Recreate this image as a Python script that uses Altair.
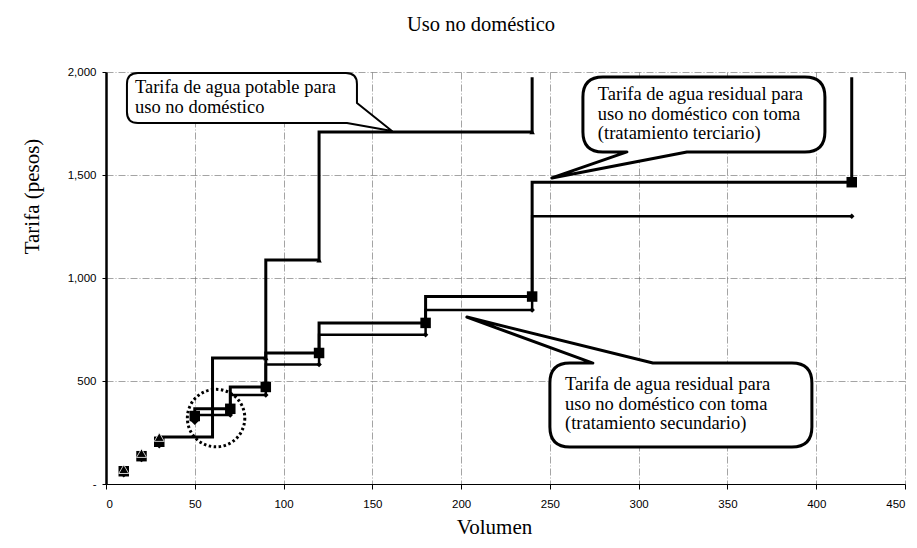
import altair as alt
import pandas as pd

# ---------------- data ----------------
# Tarifa de agua potable (triangles) - drawn as step-after line
pot_x = [30, 60, 90, 120, 240]
pot_y = [228, 612, 1087, 1709, 1975]
pot_mark_x = [10, 20, 30, 90, 120, 240]
pot_mark_y = [72, 150, 228, 612, 1087, 1709]

# Tarifa agua residual, tratamiento terciario (squares) - step-before line
ter_x = [50, 70, 90, 120, 180, 240, 420, 420]
ter_y = [330, 365, 471, 636, 782, 910, 1465, 1975]
ter_mark_x = [10, 20, 30, 50, 70, 90, 120, 180, 240, 420]
ter_mark_y = [62, 135, 205, 330, 365, 471, 636, 782, 910, 1465]

# Tarifa agua residual, tratamiento secundario (diamonds) - step-before line
sec_x = [50, 70, 90, 120, 180, 240, 420]
sec_y = [310, 335, 432, 580, 725, 845, 1300]
sec_mark_x = [10, 20, 30, 50, 70, 90, 120, 180, 240, 420]
sec_mark_y = [55, 128, 195, 310, 335, 432, 580, 725, 845, 1300]

x_ticks = [0, 50, 100, 150, 200, 250, 300, 350, 400, 450]
y_ticks = [0, 500, 1000, 1500, 2000]

chart_title = "Uso no doméstico"
x_title = "Volumen"
y_title = "Tarifa (pesos)"

# annotations (callouts)
callout_texts = [
    "Tarifa de agua potable para\nuso no doméstico",
    "Tarifa de agua residual para\nuso no doméstico con toma\n(tratamiento  terciario)",
    "Tarifa de agua residual para\nuso no doméstico con toma\n(tratamiento secundario)",
]
callout_text_x = [16.3, 277, 258.5]
callout_text_y = [1898, 1864, 456]
callout_box_x = [11.8, 268.6, 250]
callout_box_y = [1995, 1976, 587]
circle_x = [62]
circle_y = [320]

SERIF = "Liberation Serif"
SANS = "Liberation Sans"

# ---------------- tables ----------------
pot = pd.DataFrame({"x": pot_x, "y": pot_y, "o": range(len(pot_x))})
ter = pd.DataFrame({"x": ter_x, "y": ter_y, "o": range(len(ter_x))})
sec = pd.DataFrame({"x": sec_x, "y": sec_y, "o": range(len(sec_x))})
pot_m = pd.DataFrame({"x": pot_mark_x, "y": pot_mark_y})
ter_m = pd.DataFrame({"x": ter_mark_x, "y": ter_mark_y})
sec_m = pd.DataFrame({"x": sec_mark_x, "y": sec_mark_y})

xs = alt.Scale(domain=[0, 450], nice=False)
ys = alt.Scale(domain=[0, 2000], nice=False)

X = alt.X("x:Q", scale=xs, axis=alt.Axis(
    values=x_ticks, title=x_title, grid=True, titleX=388, titleY=49,
    titleBaseline="alphabetic", labelPadding=9, tickSize=5))
Y = alt.Y("y:Q", scale=ys, axis=alt.Axis(
    values=y_ticks, title=y_title, grid=True,
    labelExpr="datum.value == 0 ? '-\u00a0\u00a0' : format(datum.value, ',')",
    titleX=-74, titleY=124, titleBaseline="middle", titleAngle=270,
    labelPadding=6, tickSize=4))

def line(df, interp, width):
    return alt.Chart(df).mark_line(interpolate=interp, color="black",
                                   strokeWidth=width, clip=True).encode(
        x=X, y=Y, order="o:Q")

lines = [
    line(sec, "step-before", 2.5),
    line(ter, "step-before", 3),
    line(pot, "step-after", 3),
]

sq = alt.Chart(ter_m).mark_point(shape="square", filled=True, color="black",
                                 size=110, opacity=1).encode(x="x:Q", y="y:Q")
di_big = alt.Chart(sec_m).transform_filter("datum.x <= 50").mark_point(
    shape="diamond", filled=True, color="black", size=90, opacity=1).encode(x="x:Q", y="y:Q")
di_small = alt.Chart(sec_m).transform_filter("datum.x > 50").mark_point(
    shape="diamond", filled=True, color="black", size=30, opacity=1).encode(x="x:Q", y="y:Q")
tr_big = alt.Chart(pot_m).transform_filter("datum.x <= 30").mark_point(
    shape="triangle-up", filled=True, color="black", size=100, opacity=1,
    stroke="white", strokeWidth=0.8).encode(x="x:Q", y="y:Q")
tr_small = alt.Chart(pot_m).transform_filter("datum.x > 30").mark_point(
    shape="triangle-up", filled=True, color="black", size=30, opacity=1).encode(x="x:Q", y="y:Q")

circ = alt.Chart(pd.DataFrame({"x": circle_x, "y": circle_y})).mark_point(
    shape="circle", filled=False, color="black", size=3300, strokeWidth=3,
    strokeDash=[2.5, 2.5], opacity=1).encode(x="x:Q", y="y:Q")

# callout outlines (pixel-shaped paths, anchored at their top-left corner)
paths = [
    "M11,0 H219 Q230,0 230,11 V30 L265,58 L220,50 H11 Q0,50 0,39 V11 Q0,0 11,0 Z",
    "M20,0 H222 Q242,0 242,20 V55 Q242,75 222,75 H104 L-31,101 L44,75 H20 Q0,75 0,55 V20 Q0,0 20,0 Z",
    "M20,0 H43 L-83,-46 L103,0 H242 Q262,0 262,20 V64 Q262,84 242,84 H20 Q0,84 0,64 V20 Q0,0 20,0 Z",
]
widths = [2, 3, 3]
bubbles = []
for i in range(3):
    d = pd.DataFrame({"x": [callout_box_x[i]], "y": [callout_box_y[i]]})
    bubbles.append(alt.Chart(d).mark_point(
        shape=paths[i], size=4, filled=True, fill="white", fillOpacity=1,
        stroke="black", strokeWidth=widths[i], strokeJoin="round", opacity=1
    ).encode(x="x:Q", y="y:Q"))

txt = alt.Chart(pd.DataFrame({"x": callout_text_x, "y": callout_text_y,
                              "t": callout_texts})).mark_text(
    align="left", baseline="alphabetic", font=SERIF, fontSize=18.5,
    lineBreak="\n", lineHeight=19.5, color="black").encode(x="x:Q", y="y:Q", text="t:N")

title_mark = alt.Chart(pd.DataFrame({"t": [chart_title]})).mark_text(
    align="center", baseline="alphabetic", font=SERIF, fontSize=20.5,
    color="black").encode(x=alt.value(375), y=alt.value(-41), text="t:N")

chart = alt.layer(*lines, sq, di_big, di_small, tr_big, tr_small, circ,
                  *bubbles, txt, title_mark).properties(
    width=799, height=412,
    padding={"left": 98, "top": 64, "right": 4, "bottom": 56},
    autosize=alt.AutoSizeParams(type="none"),
).configure_view(stroke=None).configure_axis(
    labelFont=SANS, labelFontSize=11.5, labelColor="black",
    titleFont=SERIF, titleFontSize=21, titleFontWeight="normal", titleColor="black",
    gridColor="#666666", gridWidth=0.6, gridDash=[7, 2, 1, 2],
    tickColor="black", domainColor="black",
).configure_axisY(domainWidth=2.5).configure_axisX(domainWidth=1)

chart.save("out.html", embed_options={"renderer": "svg", "actions": False})
